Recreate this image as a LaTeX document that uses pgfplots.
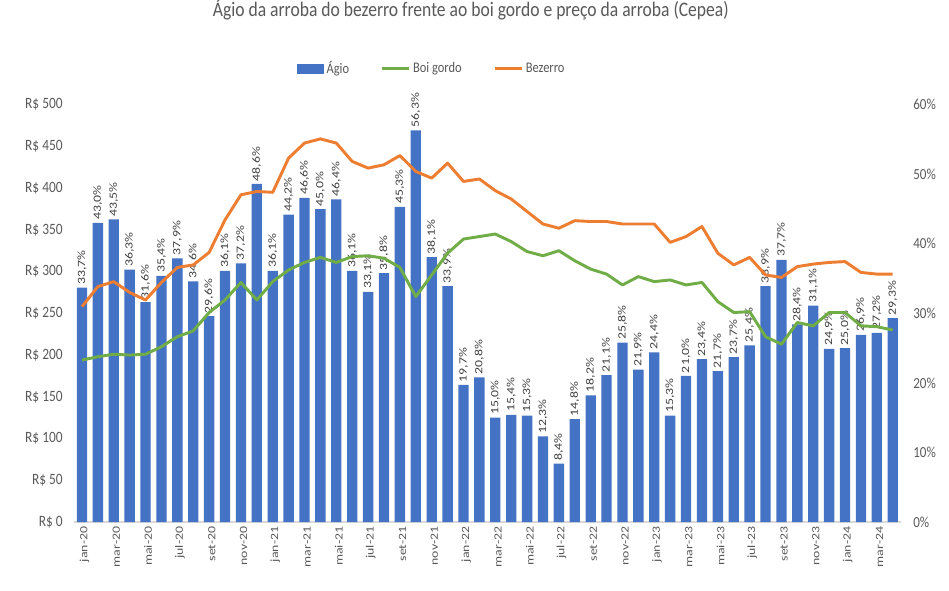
\documentclass[border=0pt]{standalone}
\usepackage{pgfplots}
\pgfplotsset{compat=1.18}
\usepackage{pgfplotstable}
\usepackage{fontspec}
\setmainfont[FakeStretch=0.85]{Carlito}
\newfontfamily\rotfont[FakeStretch=1.25]{Carlito}
\definecolor{barblue}{HTML}{4472C4}
\definecolor{boigreen}{HTML}{70AD47}
\definecolor{bezorange}{HTML}{ED7D31}
\definecolor{textgray}{HTML}{595959}
\definecolor{labelgray}{HTML}{404040}
\definecolor{axisgray}{HTML}{D9D9D9}

\pgfplotstableread{
x ago boi bez
0 33.7 194 258
1 43.0 198 282
2 43.5 201 288
3 36.3 200 275
4 31.6 201 266
5 35.4 210 287
6 37.9 222 305
7 34.6 229 308
8 29.6 251 323
9 36.1 266 362
10 37.2 287 392
11 48.6 266 396
12 36.1 288 395
13 44.2 302 436
14 46.6 311 454
15 45.0 317 459
16 46.4 311 454
17 36.1 318 432
18 33.1 319 424
19 35.8 316 428
20 45.3 305 439
21 56.3 270 420
22 38.1 296 412
23 33.9 322 430
24 19.7 339 408
25 20.8 342 411
26 15.0 345 397
27 15.4 336 387
28 15.3 324 372
29 12.3 319 357
30 8.4 325 352
31 14.8 313 361
32 18.2 303 360
33 21.1 297 360
34 25.8 284 357
35 21.9 294 357
36 24.4 288 357
37 15.3 290 335
38 21.0 284 342
39 23.4 287 354
40 21.7 264 322
41 23.7 251 308
42 25.4 252 317
43 33.9 222 296
44 37.7 213 293
45 28.4 239 306
46 31.1 235 309
47 24.9 251 311
48 25.0 251 312
49 26.9 235 299
50 27.2 234 297
51 29.3 230 297
}\datatable

\begin{document}
\begin{tikzpicture}
\useasboundingbox (-55.5pt,-51pt) rectangle (656.25pt,391.5pt);
% bars: right axis
\begin{axis}[
  at={(0,0)}, anchor=south west, scale only axis,
  width=620pt, height=313pt,
  xmin=-0.5, xmax=51.5, ymin=0, ymax=60,
  axis y line*=right, axis x line*=bottom,
  y axis line style={draw=none},
  x axis line style={draw=axisgray, line width=0.8pt},
  /pgf/number format/assume math mode=true,
  ytick={0,10,...,60},
  yticklabel={\pgfmathprintnumber{\tick}\%},
  ytick style={draw=none},
  yticklabel style={font=\fontsize{11.5}{13}\selectfont, text=textgray, xshift=6pt},
  xtick={0,2,...,50},
  xticklabels={jan-20,mar-20,mai-20,jul-20,set-20,nov-20,jan-21,mar-21,mai-21,jul-21,set-21,nov-21,jan-22,mar-22,mai-22,jul-22,set-22,nov-22,jan-23,mar-23,mai-23,jul-23,set-23,nov-23,jan-24,mar-24},
  xtick style={draw=none},
  xticklabel style={rotate=90, anchor=east, font=\rotfont\fontsize{8.3}{9}\selectfont, text=textgray, xshift=0pt, yshift=-2pt},
  extra x ticks={-0.5,1.5,...,51.5},
  extra x tick labels={},
  extra x tick style={tick style={draw=axisgray, line width=0.8pt}, major tick length=4pt, tick align=outside},
  title={Ágio da arroba do bezerro frente ao boi gordo e preço da arroba (Cepea)},
  title style={at={(0.48,1)}, anchor=center, yshift=65pt, font=\fontsize{15.5}{18}\selectfont, text=textgray},
  clip=false,
]
\addplot[ybar, bar width=0.65, fill=barblue, draw=none,
  nodes near coords={\pgfmathprintnumber[fixed,fixed zerofill,precision=1,use comma,assume math mode=true]{\pgfplotspointmeta}\%},
  every node near coord/.append style={rotate=90, anchor=west, font=\rotfont\fontsize{8.3}{9}\selectfont, text=labelgray, inner sep=2pt}
] table[x=x, y=ago] {\datatable};
\end{axis}
% lines: left axis
\begin{axis}[
  at={(0,0)}, anchor=south west, scale only axis,
  width=620pt, height=313pt,
  xmin=-0.5, xmax=51.5, ymin=0, ymax=500,
  axis y line*=left, axis x line=none,
  y axis line style={draw=none},
  /pgf/number format/assume math mode=true,
  ytick={0,50,...,500},
  yticklabel={R\$ \pgfmathprintnumber{\tick}},
  ytick style={draw=none},
  yticklabel style={font=\fontsize{11.8}{13}\selectfont, text=textgray, xshift=-5pt},
  legend columns=3,
  legend style={at={(0.433,1)}, anchor=center, yshift=27pt, draw=none, fill=none,
    font=\fontsize{11}{13}\selectfont, text=textgray,
    /tikz/every even column/.append style={column sep=22pt}},
  clip=false,
]
\addlegendimage{legend image code/.code={\fill[barblue] (0pt,-3.5pt) rectangle (20pt,3.5pt);}}
\addlegendentry{Ágio}
\addplot[color=boigreen, line width=2.2pt, line join=round, mark=none,
  legend image code/.code={\draw[boigreen, line width=2pt] (0pt,0pt) -- (20pt,0pt);}]
  table[x=x, y=boi] {\datatable};
\addlegendentry{Boi gordo}
\addplot[color=bezorange, line width=2.2pt, line join=round, mark=none,
  legend image code/.code={\draw[bezorange, line width=2pt] (0pt,0pt) -- (20pt,0pt);}]
  table[x=x, y=bez] {\datatable};
\addlegendentry{Bezerro}
\end{axis}
\end{tikzpicture}
\end{document}
